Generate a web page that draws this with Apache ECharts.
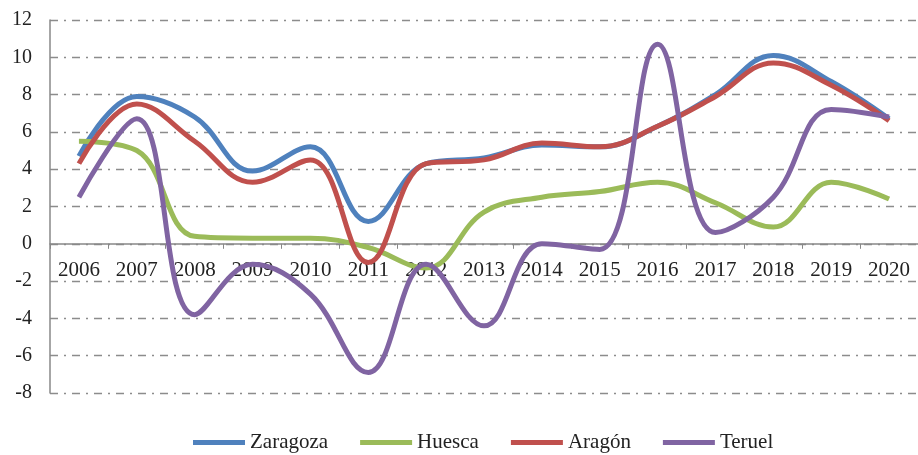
<!DOCTYPE html>
<html>
<head>
<meta charset="utf-8">
<script src="https://cdn.jsdelivr.net/npm/echarts@6/dist/echarts.min.js"></script>
<style>html,body{margin:0;padding:0;background:#fff;}#c{width:918px;height:455px;}</style>
</head>
<body>
<div id="c"></div>
<script>
const years = ['2006','2007','2008','2009','2010','2011','2012','2013','2014','2015','2016','2017','2018','2019','2020'];
const zaragoza = [4.7, 7.9, 6.8, 3.9, 5.2, 1.2, 4.3, 4.6, 5.3, 5.2, 6.3, 8.0, 10.1, 8.7, 6.7];
const huesca   = [5.5, 5.0, 0.4, 0.3, 0.3, -0.2, -1.3, 1.7, 2.5, 2.8, 3.3, 2.2, 0.9, 3.3, 2.4];
const aragon   = [4.3, 7.5, 5.5, 3.3, 4.5, -1.0, 4.3, 4.5, 5.4, 5.2, 6.3, 7.9, 9.7, 8.5, 6.6];
const teruel   = [2.5, 6.7, -3.8, -1.1, -2.7, -6.9, -1.1, -4.4, 0.0, -0.3, 10.7, 0.6, 2.5, 7.2, 6.8];
const yMin = -8, yMax = 12, yStep = 2;

const serif = '"Liberation Serif", "Times New Roman", serif';
const gridTop = 20, gridHeight = 373;
const zeroOffset = -gridHeight * (0 - yMin) / (yMax - yMin);
const chart = echarts.init(document.getElementById('c'), null, {renderer: 'canvas'});
const mk = (name, data, color) => ({
  name, type: 'line', data, smooth: 0.4, symbol: 'none', z: 5,
  lineStyle: {width: 5, color}, itemStyle: {color}
});
chart.setOption({
  animation: false,
  backgroundColor: '#fff',
  grid: {left: 50, top: gridTop, width: 874.5, height: gridHeight, containLabel: false},
  legend: {
    top: 427, left: 188, icon: 'rect', itemWidth: 52, itemHeight: 5, itemGap: 32,
    textStyle: {fontFamily: serif, fontSize: 21, color: '#222'},
    data: ['Zaragoza', 'Huesca', 'Aragón', 'Teruel']
  },
  xAxis: {
    type: 'category', data: years, boundaryGap: true, offset: zeroOffset, z: 1,
    axisLine: {onZero: false, lineStyle: {color: '#888', width: 1.5}},
    axisTick: {show: true, length: 5, lineStyle: {color: '#888'}},
    axisLabel: {fontFamily: serif, fontSize: 21, color: '#222', margin: 16, interval: 0},
    splitLine: {show: false}
  },
  yAxis: {
    type: 'value', min: yMin, max: yMax, interval: yStep,
    axisLine: {show: true, lineStyle: {color: '#888', width: 1.5}},
    axisTick: {show: false},
    axisLabel: {fontFamily: serif, fontSize: 20, color: '#222', margin: 18},
    splitLine: {show: true, lineStyle: {color: '#8c8c8c', width: 1.3, type: [8, 6, 2, 6]}}
  },
  series: [
    mk('Zaragoza', zaragoza, '#4F81BD'),
    mk('Huesca', huesca, '#9BBB59'),
    mk('Aragón', aragon, '#C0504D'),
    mk('Teruel', teruel, '#8064A2')
  ]
});
</script>
</body>
</html>
